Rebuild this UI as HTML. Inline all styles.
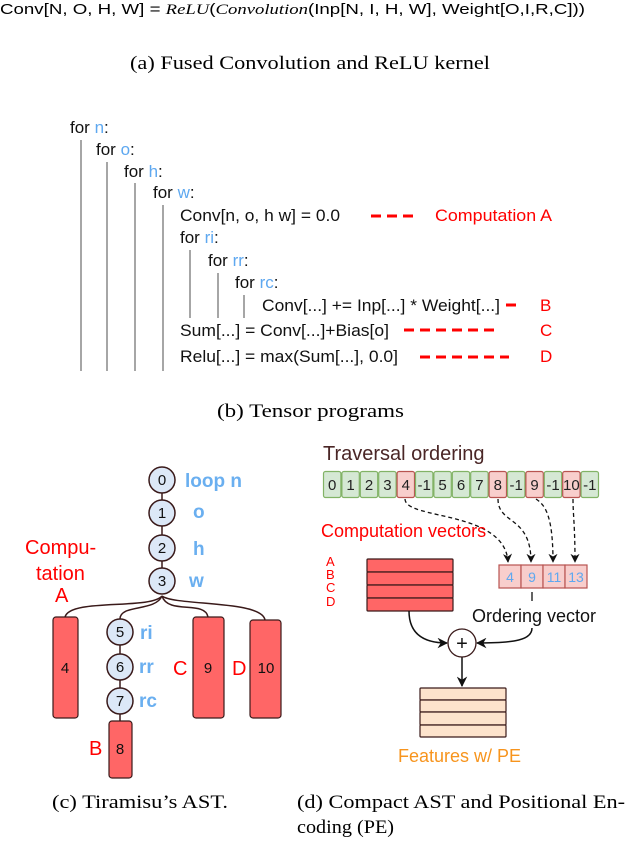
<!DOCTYPE html>
<html><head><meta charset="utf-8"><style>
html,body{margin:0;padding:0;background:#fff;width:630px;height:848px;overflow:hidden}
svg{display:block}
.s{font-family:"Liberation Sans",sans-serif}
.r{font-family:"Liberation Serif",serif}
</style></head><body>
<svg width="630" height="848" viewBox="0 0 630 848" xmlns="http://www.w3.org/2000/svg">
<defs>
<marker id="ah" viewBox="0 0 10 10" refX="9" refY="5" markerWidth="7" markerHeight="7" orient="auto"><path d="M0,0 L10,5 L0,10 L3,5 z" fill="#111"/></marker>
</defs>
<!-- (a) -->
<text class="s" x="0" y="14" font-size="15" textLength="585" lengthAdjust="spacingAndGlyphs">Conv[N, O, H, W] = <tspan class="r" font-style="italic">ReLU</tspan>(<tspan class="r" font-style="italic">Convolution</tspan>(Inp[N, I, H, W], Weight[O,I,R,C]))</text>
<text class="r" x="130" y="69" font-size="19" textLength="360" lengthAdjust="spacingAndGlyphs">(a)  Fused Convolution and ReLU kernel</text>

<!-- (b) code -->
<g class="s" font-size="17" fill="#111">
<text x="70" y="133">for <tspan fill="#5ea8f0">n</tspan>:</text>
<text x="96" y="155">for <tspan fill="#5ea8f0">o</tspan>:</text>
<text x="124" y="177">for <tspan fill="#5ea8f0">h</tspan>:</text>
<text x="153" y="198">for <tspan fill="#5ea8f0">w</tspan>:</text>
<text x="180" y="221" textLength="160" lengthAdjust="spacingAndGlyphs">Conv[n, o, h w] = 0.0</text>
<text x="180" y="243">for <tspan fill="#5ea8f0">ri</tspan>:</text>
<text x="208" y="266">for <tspan fill="#5ea8f0">rr</tspan>:</text>
<text x="235" y="288">for <tspan fill="#5ea8f0">rc</tspan>:</text>
<text x="262" y="311" textLength="238" lengthAdjust="spacingAndGlyphs">Conv[...] += Inp[...] * Weight[...]</text>
<text x="180" y="336" textLength="209" lengthAdjust="spacingAndGlyphs">Sum[...] = Conv[...]+Bias[o]</text>
<text x="180" y="362" textLength="218" lengthAdjust="spacingAndGlyphs">Relu[...] = max(Sum[...], 0.0]</text>
</g>
<g stroke="#888" stroke-width="1.5">
<line x1="81" y1="140" x2="81" y2="371"/>
<line x1="107" y1="162" x2="107" y2="371"/>
<line x1="135" y1="183" x2="135" y2="371"/>
<line x1="163" y1="205" x2="163" y2="371"/>
<line x1="190" y1="250" x2="190" y2="318"/>
<line x1="218" y1="273" x2="218" y2="318"/>
<line x1="244" y1="295" x2="244" y2="318"/>
</g>
<g stroke="#f00" stroke-width="3" stroke-dasharray="10,6">
<line x1="371" y1="216" x2="416" y2="216"/>
<line x1="506" y1="305" x2="516" y2="305" stroke-dasharray="none"/>
<line x1="404" y1="330" x2="500" y2="330"/>
<line x1="420" y1="357" x2="509" y2="357"/>
</g>
<g class="s" font-size="17" fill="#f00">
<text x="435" y="221" textLength="117" lengthAdjust="spacingAndGlyphs">Computation A</text>
<text x="540" y="311">B</text>
<text x="540" y="336">C</text>
<text x="540" y="362">D</text>
</g>
<text class="r" x="217" y="417" font-size="19" textLength="187" lengthAdjust="spacingAndGlyphs">(b)  Tensor programs</text>

<!-- (c) AST -->
<g fill="none" stroke="#3a1a1a" stroke-width="1.5">
<line x1="162" y1="480" x2="162" y2="580"/>
<line x1="120" y1="632" x2="120" y2="721"/>
<path d="M162,596 C150,610 70,598 65,617"/>
<path d="M162,596 C155,612 120,604 120,619"/>
<path d="M162,596 C168,615 205,600 208,617"/>
<path d="M162,596 C175,606 262,600 265,620"/>
</g>
<g stroke="#3a1a1a" stroke-width="1.5" fill="#dce8f7">
<circle cx="162" cy="480" r="13"/><circle cx="162" cy="513" r="13"/>
<circle cx="162" cy="548" r="13"/><circle cx="162" cy="581" r="13"/>
<circle cx="120" cy="632" r="13"/><circle cx="120" cy="667" r="13"/><circle cx="120" cy="701" r="13"/>
</g>
<g stroke="#3a1a1a" stroke-width="1.2" fill="#ff6666">
<rect x="53" y="617" width="25" height="101" rx="3"/>
<rect x="193" y="617" width="31" height="101" rx="3"/>
<rect x="250" y="620" width="31" height="98" rx="3"/>
<rect x="109" y="721" width="23" height="57" rx="3"/>
</g>
<g class="s" font-size="15" fill="#111" text-anchor="middle">
<text x="162" y="485">0</text><text x="162" y="518">1</text><text x="162" y="553">2</text><text x="162" y="586">3</text>
<text x="120" y="637">5</text><text x="120" y="672">6</text><text x="120" y="706">7</text>
<text x="65" y="673">4</text><text x="208" y="673">9</text><text x="266" y="673">10</text><text x="120" y="754">8</text>
</g>
<g class="s" font-size="19" font-weight="bold" fill="#6aaff0">
<text x="185" y="487">loop n</text><text x="193" y="518">o</text><text x="193" y="555">h</text><text x="189" y="587">w</text>
<text x="140" y="639">ri</text><text x="139" y="673">rr</text><text x="139" y="707">rc</text>
</g>
<g class="s" font-size="20" fill="#f00">
<text x="25" y="554">Compu-</text><text x="36" y="580">tation</text><text x="55" y="602">A</text>
<text x="173" y="675">C</text><text x="232" y="675">D</text><text x="89" y="755">B</text>
</g>
<text class="r" x="52" y="808" font-size="19" textLength="176" lengthAdjust="spacingAndGlyphs">(c) Tiramisu’s AST.</text>

<!-- (d) -->
<text class="s" x="323" y="460" font-size="20" fill="#4a2626">Traversal ordering</text>
<g class="s" font-size="15" fill="#222" text-anchor="middle" stroke-width="1.2">
<rect x="323.5" y="471.5" width="17.4" height="26" fill="#d5e8d4" stroke="#82b366" rx="2"/><text x="332.2" y="490">0</text>
<rect x="341.9" y="471.5" width="17.4" height="26" fill="#d5e8d4" stroke="#82b366" rx="2"/><text x="350.6" y="490">1</text>
<rect x="360.3" y="471.5" width="17.4" height="26" fill="#d5e8d4" stroke="#82b366" rx="2"/><text x="369" y="490">2</text>
<rect x="378.7" y="471.5" width="17.4" height="26" fill="#d5e8d4" stroke="#82b366" rx="2"/><text x="387.4" y="490">3</text>
<rect x="397.1" y="471.5" width="17.4" height="26" fill="#f8cecc" stroke="#b85450" rx="2"/><text x="405.8" y="490">4</text>
<rect x="415.5" y="471.5" width="17.4" height="26" fill="#d5e8d4" stroke="#82b366" rx="2"/><text x="424.2" y="490">-1</text>
<rect x="433.9" y="471.5" width="17.4" height="26" fill="#d5e8d4" stroke="#82b366" rx="2"/><text x="442.6" y="490">5</text>
<rect x="452.3" y="471.5" width="17.4" height="26" fill="#d5e8d4" stroke="#82b366" rx="2"/><text x="461" y="490">6</text>
<rect x="470.7" y="471.5" width="17.4" height="26" fill="#d5e8d4" stroke="#82b366" rx="2"/><text x="479.4" y="490">7</text>
<rect x="489.1" y="471.5" width="17.4" height="26" fill="#f8cecc" stroke="#b85450" rx="2"/><text x="497.8" y="490">8</text>
<rect x="507.5" y="471.5" width="17.4" height="26" fill="#d5e8d4" stroke="#82b366" rx="2"/><text x="516.2" y="490">-1</text>
<rect x="525.9" y="471.5" width="17.4" height="26" fill="#f8cecc" stroke="#b85450" rx="2"/><text x="534.6" y="490">9</text>
<rect x="544.3" y="471.5" width="17.4" height="26" fill="#d5e8d4" stroke="#82b366" rx="2"/><text x="553" y="490">-1</text>
<rect x="562.7" y="471.5" width="17.4" height="26" fill="#f8cecc" stroke="#b85450" rx="2"/><text x="571.4" y="490">10</text>
<rect x="581.1" y="471.5" width="17.4" height="26" fill="#d5e8d4" stroke="#82b366" rx="2"/><text x="589.8" y="490">-1</text>
</g>
<g fill="none" stroke="#111" stroke-width="1.3" stroke-dasharray="4,3">
<path d="M405,499 C405,520 505,510 508,562" marker-end="url(#ah)"/>
<path d="M498,499 C498,525 531,515 531,562" marker-end="url(#ah)"/>
<path d="M536,499 C545,505 553,515 553,562" marker-end="url(#ah)"/>
<path d="M573,499 C573,515 575,525 575,562" marker-end="url(#ah)"/>
</g>
<text class="s" x="321" y="537" font-size="18" fill="#f00">Computation vectors</text>
<g class="s" font-size="13" fill="#f00"><text x="326" y="566">A</text><text x="326" y="579">B</text><text x="326" y="592">C</text><text x="326" y="606">D</text></g>
<g stroke="#3a1a1a" stroke-width="1.2" fill="#ff6666">
<rect x="367" y="559" width="86" height="13" rx="1"/><rect x="367" y="572" width="86" height="13" rx="1"/>
<rect x="367" y="585" width="86" height="13" rx="1"/><rect x="367" y="598" width="86" height="13" rx="1"/>
</g>
<g stroke="#b85450" stroke-width="1.2" fill="#f8cecc">
<rect x="499" y="565" width="22" height="23"/><rect x="521" y="565" width="22" height="23"/>
<rect x="543" y="565" width="22" height="23"/><rect x="565" y="565" width="22" height="23"/>
</g>
<g class="s" font-size="14" fill="#5ea8f0" text-anchor="middle"><text x="510" y="582">4</text><text x="532" y="582">9</text><text x="554" y="582">11</text><text x="576" y="582">13</text></g>
<line x1="532" y1="592" x2="532" y2="601" stroke="#111" stroke-width="1.3"/>
<text class="s" x="472" y="622" font-size="18" fill="#111">Ordering vector</text>
<g fill="none" stroke="#111" stroke-width="1.5">
<path d="M409,611 C409,635 425,643 447,643" marker-end="url(#ah)"/>
<path d="M532,628 C532,640 515,643 477,643" marker-end="url(#ah)"/>
<line x1="462" y1="657" x2="462" y2="686" marker-end="url(#ah)"/>
</g>
<circle cx="462" cy="643" r="14" fill="#fff" stroke="#3a1a1a" stroke-width="1.3"/>
<text class="s" x="462" y="650" font-size="20" text-anchor="middle" fill="#111">+</text>
<g stroke="#3a1a1a" stroke-width="1.2" fill="#fde3cc">
<rect x="420" y="688" width="86" height="12" rx="1"/><rect x="420" y="700" width="86" height="12" rx="1"/>
<rect x="420" y="712" width="86" height="13" rx="1"/><rect x="420" y="725" width="86" height="12" rx="1"/>
</g>
<text class="s" x="398" y="762" font-size="18" fill="#f7941d">Features w/ PE</text>
<text class="r" x="297" y="808" font-size="19" textLength="328" lengthAdjust="spacingAndGlyphs">(d)  Compact AST and Positional En-</text>
<text class="r" x="297" y="833" font-size="19" textLength="97" lengthAdjust="spacingAndGlyphs">coding (PE)</text>
</svg>
</body></html>
